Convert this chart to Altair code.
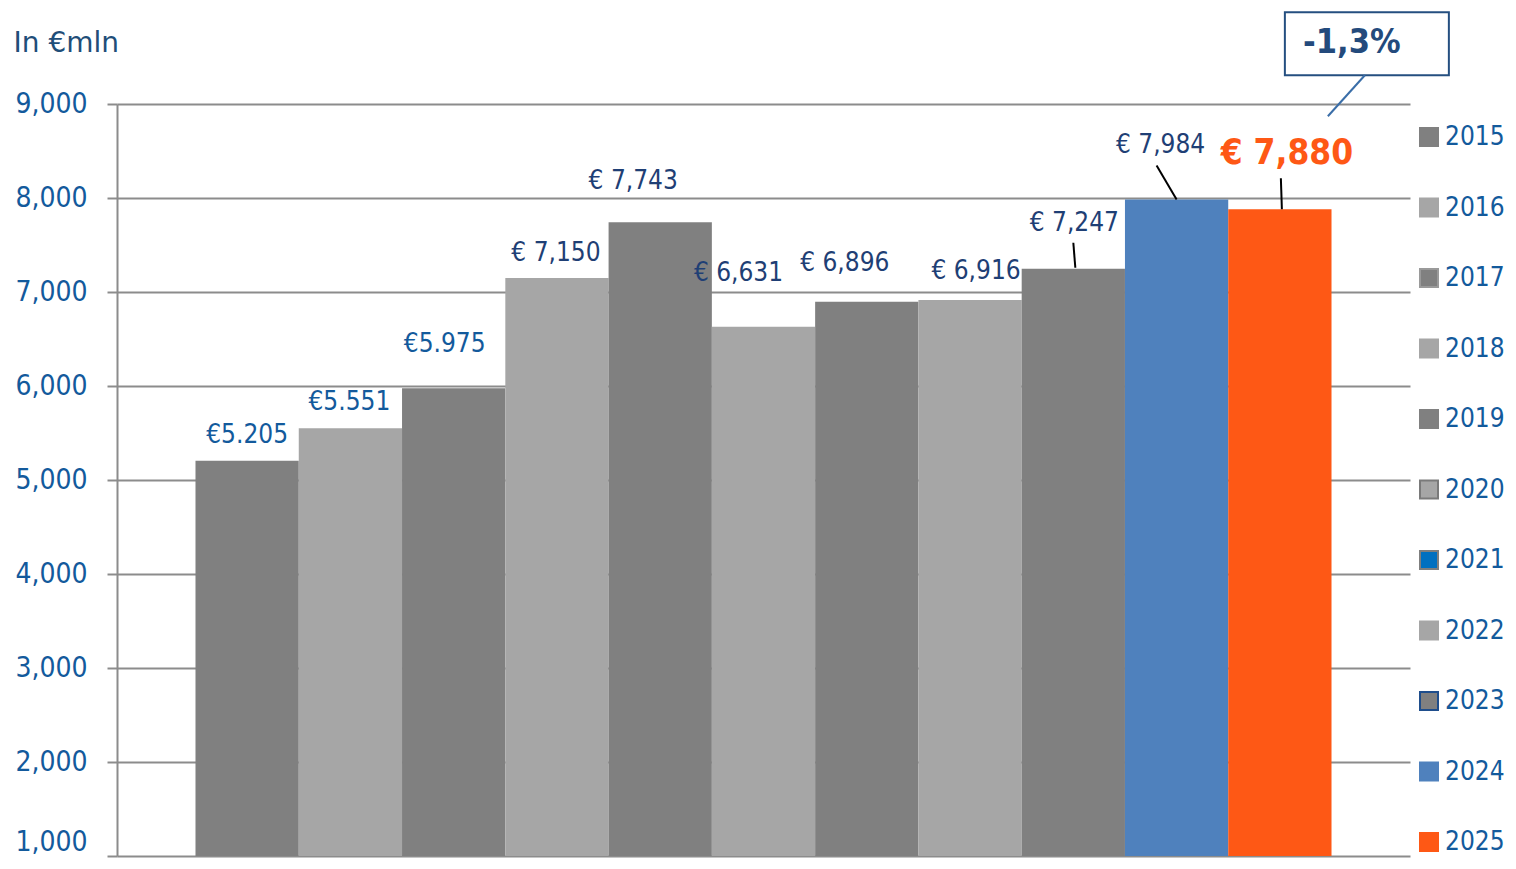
import altair as alt
import pandas as pd

# ---- data ----
years = ["2015", "2016", "2017", "2018", "2019", "2020", "2021", "2022", "2023", "2024", "2025"]
values = [5205, 5551, 5975, 7150, 7743, 6631, 6896, 6916, 7247, 7984, 7880]
labels = ["€5.205", "€5.551", "€5.975", "€ 7,150", "€ 7,743", "€ 6,631", "€ 6,896",
          "€ 6,916", "€ 7,247", "€ 7,984", "€ 7,880"]
change_label = "-1,3%"
axis_title = "In €mln"
y_ticks = [1000, 2000, 3000, 4000, 5000, 6000, 7000, 8000, 9000]

# ---- styles ----
DG, LG = "#808080", "#a6a6a6"
bar_colors = [DG, LG, DG, LG, DG, LG, DG, LG, DG, "#4f81bd", "#fe5815"]
legend_fill = [DG, LG, DG, LG, DG, LG, "#0070c0", LG, DG, "#4f81bd", "#fe5815"]
legend_stroke = [DG, LG, "#9a9a9a", LG, DG, "#7a7a7a", "#7f7f7f", LG, "#1f4e8c", "#4f81bd", "#fe5815"]
FONT = "DejaVu Sans Condensed, DejaVu Sans"
NAVY = "#1f3f75"
BLUE = "#135a9c"

# label placement (pixels relative to bar top centre): dx, dy, colour, size, weight
label_style = [
    (0, -26, BLUE, 26, "normal"),
    (-1, -26, BLUE, 26, "normal"),
    (-9, -44, BLUE, 26, "normal"),
    (-1, -25, NAVY, 26, "normal"),
    (-27, -41, NAVY, 26, "normal"),
    (-25, -54, NAVY, 26, "normal"),
    (-22, -39, NAVY, 26, "normal"),
    (6, -29, NAVY, 26, "normal"),
    (1, -46, NAVY, 26, "normal"),
    (-16, -55, NAVY, 26, "normal"),
    (7, -56, "#fe5815", 35, "bold"),
]
# leader lines: idx, (x1, y1), (x2, y2) offsets in px from bar top centre
leaders = [
    (8, (0, -26), (2, -1)),
    (9, (-20, -34), (0, 0)),
    (10, (1, -31), (2, 0)),
]

df = pd.DataFrame({
    "idx": list(range(len(years))),
    "year": years,
    "value": values,
    "label": labels,
})
df["x0"] = df["idx"]
df["x1"] = df["idx"] + 1
df["xc"] = df["idx"] + 0.5

xscale = alt.Scale(domain=[-0.76, len(years) + 0.76], nice=False, zero=False)
yscale = alt.Scale(domain=[1000, 9000], nice=False, zero=False)

base = alt.Chart(df)

yaxis = alt.Axis(
    values=y_ticks, format=",d",
    title=axis_title, titleAngle=0, titleAlign="left", titleBaseline="middle",
    titleX=-104, titleY=-61, titleFont="DejaVu Sans", titleFontSize=28,
    titleFontWeight="normal", titleColor="#1f4e79",
    grid=True, gridColor="#8c8c8c", gridWidth=2,
    domainColor="#8c8c8c", domainWidth=2,
    tickColor="#8c8c8c", tickWidth=2, tickSize=10,
    labelFont=FONT, labelFontSize=28, labelColor=BLUE, labelPadding=20,
    labelBaseline=alt.condition("datum.value == 1000", alt.value("bottom"),
                                alt.value("middle")),
)

legend_def = alt.Legend(title=None, orient="none", legendX=1299, legendY=20,
                        symbolType="square", symbolSize=324, symbolStrokeWidth=2,
                        symbolOpacity=1,
                        labelFont=FONT, labelFontSize=26, labelColor=BLUE,
                        labelOffset=3, rowPadding=44.5, padding=0)

# hidden layer (behind the bars) that carries the legend
legend_layer = base.mark_square(size=4, filled=True, strokeWidth=2, opacity=1,
                                yOffset=40).encode(
    x=alt.X("xc:Q", scale=xscale, axis=None),
    y=alt.Y("value:Q", scale=yscale, axis=yaxis),
    color=alt.Color("year:N", scale=alt.Scale(domain=years, range=legend_fill),
                    legend=legend_def),
    stroke=alt.Stroke("year:N", scale=alt.Scale(domain=years, range=legend_stroke),
                      legend=legend_def),
)

bars = base.mark_rect().encode(
    x=alt.X("x0:Q", scale=xscale, axis=None),
    x2="x1:Q",
    y=alt.Y("value:Q", scale=yscale, axis=yaxis),
    y2=alt.datum(1000),
    fill=alt.Fill("year:N", scale=alt.Scale(domain=years, range=bar_colors), legend=None),
)

layers = [legend_layer, bars]

for i, (dx, dy, col, size, weight) in enumerate(label_style):
    layers.append(
        base.transform_filter(alt.datum.idx == i).mark_text(
            dx=dx, dy=dy, font=FONT, fontSize=size, fontWeight=weight, color=col,
            baseline="middle", align="center",
        ).encode(
            x=alt.X("xc:Q", scale=xscale, axis=None),
            y=alt.Y("value:Q", scale=yscale, axis=yaxis),
            text="label:N",
        )
    )

for i, p1, p2 in leaders:
    layers.append(
        base.transform_filter(alt.datum.idx == i).mark_rule(
            color="black", strokeWidth=2,
            xOffset=p1[0], yOffset=p1[1], x2Offset=p2[0], y2Offset=p2[1],
        ).encode(
            x=alt.X("xc:Q", scale=xscale, axis=None), x2="xc:Q",
            y=alt.Y("value:Q", scale=yscale, axis=yaxis), y2="value:Q",
        )
    )

# callout box for the change
last = base.transform_filter(alt.datum.idx == len(years) - 1)
layers.append(
    last.mark_rect(fill="white", stroke="#254f80", strokeWidth=2,
                   xOffset=5, x2Offset=169, yOffset=-197, y2Offset=-134).encode(
        x=alt.X("xc:Q", scale=xscale, axis=None), x2="xc:Q",
        y=alt.Y("value:Q", scale=yscale, axis=yaxis), y2="value:Q",
    )
)
layers.append(
    last.mark_rule(color="#3a6ea8", strokeWidth=2,
                   xOffset=85, yOffset=-134, x2Offset=48, y2Offset=-93).encode(
        x=alt.X("xc:Q", scale=xscale, axis=None), x2="xc:Q",
        y=alt.Y("value:Q", scale=yscale, axis=yaxis), y2="value:Q",
    )
)
layers.append(
    last.mark_text(text=change_label, dx=72, dy=-166, font=FONT, fontSize=34,
                   fontWeight="bold", color="#234a7c").encode(
        x=alt.X("xc:Q", scale=xscale, axis=None),
        y=alt.Y("value:Q", scale=yscale, axis=yaxis),
    )
)

chart = alt.layer(*layers).properties(
    width=1293, height=752,
    autosize=alt.AutoSizeParams(type="none"),
    padding={"left": 109, "top": 96, "right": 98, "bottom": 5},
).configure_view(stroke=None)

chart.save("out.html", embed_options={"renderer": "svg", "actions": False})
